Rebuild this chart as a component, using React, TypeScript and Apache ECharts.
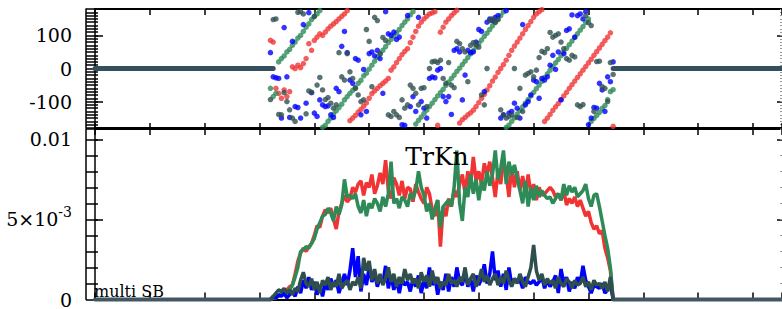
import React, { useEffect, useRef } from 'react';
import * as echarts from 'echarts';

// channel index of the first sample in the arrays below
const FIRST_CHANNEL = 64;
const X_MAX = 250.6;
// channel spans where every product is exactly zero
const zeroPhaseLeft = [0, 65];
const zeroPhaseRight = [189, X_MAX];
const zeroAmpLeft = [0, 64];
const zeroAmpRight = [189, X_MAX];

const phaseRed = [
  85, 80, -60, -75, -90, -65, -85, -70, 5, 0,
  10, 3, 15, 30, 75, 55, 85, 95, 105, 100,
  110, 120, 128, 135, 142, 150, 158, 165, 175, -158,
  -150, -142, -132, -124, -114, -104, -90, -76, -68, -60,
  -52, -45, -38, -30, -5, 5, 18, 30, 42, 52,
  60, 78, 95, 112, 128, 140, 150, 158, 165, 168,
  172, -172, 110, 125, 140, 150, 160, 168, 176, -165,
  -155, -148, -140, -134, -126, -115, -103, -90, -78, -65,
  -52, -38, -26, -12, 0, 12, 25, 40, 55, 68,
  80, 92, 105, 118, 130, 142, 155, 165, 172, 178,
  -160, -150, -139, -127, -116, -106, -94, -83, -72, -60,
  -49, -38, -27, -16, -5, 6, 17, 28, 40, 51,
  62, 73, 84, 95, 108, -175,
];
const phaseGreen = [
  -60, -85, -75, 20, 30, 38, 50, 58, 70, 80,
  92, 100, 112, 125, 135, 148, 158, 165, 175, -178,
  -172, -160, -150, -138, -128, -118, -108, -95, -85, -75,
  -66, -58, -45, -36, -22, -14, -2, 10, 22, 34,
  44, 55, 66, 78, 88, 98, 108, 118, 130, 140,
  150, 162, 172, -168, -157, -147, -136, -126, -115, -105,
  -94, -83, -73, -63, -51, -41, -30, -20, -9, 1,
  12, 22, 33, 44, 54, 65, 76, 86, 97, 107,
  118, 129, 139, 149, 160, 171, -178, -171, -160, -149,
  -138, -127, -116, -105, -94, -83, -72, -61, -50, -39,
  -27, -16, -5, 6, 17, 27, 39, 50, 61, 72,
  83, 94, 105, 116, 127, 139, 150, -160, -151, -142,
  -133, -121, -112, -94, -70, -64,
];
const phaseBlue = [
  48, -25, -28, -30, -150, 124, -25, -148, 82, -115,
  -118, -150, 133, -105, 169, -73, -135, -145, -95, -110,
  -115, -113, -140, -148, -60, -70, 67, 112, 48, -35,
  -45, 30, 25, -140, -3, -130, 45, 50, 38, 55,
  30, -75, 172, 105, 100, 110, 88, 95, -170, -172,
  160, -115, -85, -130, 155, -100, -120, -150, -30, -25,
  -28, -5, 0, -85, -100, -85, -139, 55, 60, 50,
  -95, -20, 55, 48, 50, 80, 118, 112, -70, 140,
  150, 145, 155, 160, -150, -140, 175, -135, -130, -105,
  -120, -150, 133, -110, -100, -80, -35, -40, -90, -30,
  -35, -25, 10, 40, -3, 50, -95, 45, 115, 120,
  162, 95, 160, 165, 150, 172, -170, -150, -118, -120,
  -45, -65, -130, -25, -40, 20,
];
const phaseDark = [
  -94, 148, 150, -139, -140, -73, -100, -125, -150, -160,
  170, 172, 165, -137, -68, -72, 157, -50, -27, -65,
  -94, -88, -105, -120, -110, 48, -25, -35, 45, -10,
  -30, -60, -80, -100, -95, 118, 82, -55, 155, 145,
  45, 94, 85, -140, -145, -130, -140, -148, -95, -120,
  -110, -50, -60, -75, -110, -60, -58, -115, 0, 20,
  22, 18, 25, -30, -45, 18, -50, -58, 82, 75,
  60, 50, -40, 70, 78, 72, 65, -80, -110, 0,
  145, 150, 140, 148, -125, -140, -150, -145, -140, 0,
  -148, -60, -130, -20, -15, -10, -25, -5, 33, 52,
  48, 60, 109, 95, 100, 105, 80, 60, 30, 25,
  40, 35, -110, -115, -109, 160, 139, 130, -130, 21,
  22, -55, -60, -100, 18, -18,
];

const ampRed = [
  0, 0.0001, 0.0002, 0.0002, 0.0004, 0.0005, 0.0006, 0.0008, 0.0009, 0.0016,
  0.0024, 0.0029, 0.0032, 0.0030, 0.0033, 0.0035, 0.0040, 0.0046, 0.0045, 0.0052,
  0.0056, 0.0054, 0.0057, 0.0050, 0.0044, 0.0055, 0.0060, 0.0065, 0.0061, 0.0063,
  0.0070, 0.0067, 0.0072, 0.0074, 0.0065, 0.0073, 0.0070, 0.0078, 0.0066, 0.0071,
  0.0079, 0.0072, 0.0087, 0.0068, 0.0063, 0.0076, 0.0072, 0.0065, 0.0074, 0.0063,
  0.0070, 0.0069, 0.0061, 0.0072, 0.0067, 0.0063, 0.0060, 0.0070, 0.0066, 0.0056,
  0.0052, 0.0062, 0.0033, 0.0058, 0.0052, 0.0063, 0.0058, 0.0068, 0.0064, 0.0072,
  0.0078, 0.0066, 0.0080, 0.0072, 0.0089, 0.0074, 0.0080, 0.0072, 0.0085, 0.0078,
  0.0086, 0.0076, 0.0064, 0.0080, 0.0072, 0.0087, 0.0078, 0.0064, 0.0083, 0.0070,
  0.0080, 0.0068, 0.0077, 0.0066, 0.0078, 0.0066, 0.0072, 0.0062, 0.0070, 0.0065,
  0.0066, 0.0068, 0.0070, 0.0068, 0.0064, 0.0066, 0.0062, 0.0068, 0.0059, 0.0063,
  0.0060, 0.0064, 0.0058, 0.0062, 0.0057, 0.0052, 0.0055, 0.0048, 0.0044, 0.0046,
  0.0041, 0.0043, 0.0032, 0.0026, 0.0018, 0,
];
const ampGreen = [
  0, 0.0001, 0.0001, 0.0002, 0.0004, 0.0005, 0.0004, 0.0006, 0.0009, 0.0014,
  0.0020, 0.0030, 0.0031, 0.0033, 0.0032, 0.0035, 0.0038, 0.0044, 0.0048, 0.0052,
  0.0053, 0.0057, 0.0054, 0.0049, 0.0058, 0.0053, 0.0059, 0.0075, 0.0064, 0.0065,
  0.0063, 0.0066, 0.0058, 0.0054, 0.0062, 0.0052, 0.0060, 0.0057, 0.0063, 0.0060,
  0.0055, 0.0064, 0.0058, 0.0066, 0.0086, 0.0060, 0.0063, 0.0057, 0.0064, 0.0062,
  0.0058, 0.0066, 0.0063, 0.0068, 0.0080, 0.0070, 0.0065, 0.0055, 0.0060, 0.0050,
  0.0057, 0.0062, 0.0045, 0.0058, 0.0060, 0.0062, 0.0058, 0.0070, 0.0093, 0.0060,
  0.0049, 0.0070, 0.0064, 0.0078, 0.0066, 0.0075, 0.0062, 0.0074, 0.0068, 0.0080,
  0.0071, 0.0078, 0.0093, 0.0075, 0.0082, 0.0093, 0.0072, 0.0086, 0.0078, 0.0084,
  0.0076, 0.0068, 0.0060, 0.0074, 0.0058, 0.0070, 0.0062, 0.0071, 0.0064, 0.0068,
  0.0065, 0.0063, 0.0064, 0.0060, 0.0063, 0.0066, 0.0062, 0.0072, 0.0065, 0.0071,
  0.0067, 0.0070, 0.0064, 0.0066, 0.0068, 0.0072, 0.0063, 0.0058, 0.0065, 0.0066,
  0.0058, 0.0049, 0.0040, 0.0032, 0.0020, 0,
];
const ampBlue = [
  0, 0.0002, 0.0001, 0.0003, 0.0002, 0.0004, 0.0001, 0.0003, 0.0005, 0.0002,
  0.0008, 0.0004, 0.0012, 0.0007, 0.0014, 0.0006, 0.0011, 0.0003, 0.0009, 0.0002,
  0.0010, 0.0006, 0.0013, 0.0008, 0.0012, 0.0004, 0.0010, 0.0016, 0.0009, 0.0018,
  0.0032, 0.0014, 0.0027, 0.0005, 0.0016, 0.0009, 0.0020, 0.0011, 0.0016, 0.0008,
  0.0014, 0.0010, 0.0021, 0.0007, 0.0015, 0.0006, 0.0012, 0.0004, 0.0013, 0.0009,
  0.0011, 0.0005, 0.0013, 0.0008, 0.0015, 0.0004, 0.0012, 0.0007, 0.0020, 0.0009,
  0.0014, 0.0003, 0.0011, 0.0006, 0.0016, 0.0005, 0.0014, 0.0008, 0.0020, 0.0011,
  0.0009, 0.0017, 0.0008, 0.0013, 0.0005, 0.0015, 0.0009, 0.0013, 0.0022, 0.0010,
  0.0016, 0.0030, 0.0012, 0.0018, 0.0008, 0.0016, 0.0006, 0.0020, 0.0009, 0.0013,
  0.0011, 0.0012, 0.0007, 0.0014, 0.0011, 0.0010, 0.0012, 0.0009, 0.0011, 0.0014,
  0.0007, 0.0012, 0.0008, 0.0011, 0.0015, 0.0004, 0.0019, 0.0010, 0.0014, 0.0005,
  0.0011, 0.0007, 0.0014, 0.0010, 0.0021, 0.0012, 0.0008, 0.0004, 0.0009, 0.0008,
  0.0007, 0.0010, 0.0004, 0.0006, 0.0010, 0,
];
const ampDark = [
  0, 0.0002, 0.0004, 0.0006, 0.0005, 0.0007, 0.0004, 0.0006, 0.0003, 0.0007,
  0.0005, 0.0012, 0.0017, 0.0010, 0.0008, 0.0013, 0.0006, 0.0011, 0.0004, 0.0012,
  0.0009, 0.0014, 0.0006, 0.0011, 0.0008, 0.0016, 0.0007, 0.0010, 0.0012, 0.0006,
  0.0011, 0.0009, 0.0014, 0.0007, 0.0026, 0.0018, 0.0024, 0.0012, 0.0019, 0.0010,
  0.0016, 0.0009, 0.0013, 0.0020, 0.0011, 0.0016, 0.0008, 0.0014, 0.0010, 0.0019,
  0.0012, 0.0016, 0.0010, 0.0013, 0.0007, 0.0017, 0.0011, 0.0015, 0.0008, 0.0018,
  0.0010, 0.0014, 0.0007, 0.0011, 0.0009, 0.0016, 0.0010, 0.0012, 0.0008, 0.0014,
  0.0011, 0.0020, 0.0009, 0.0013, 0.0016, 0.0008, 0.0012, 0.0019, 0.0011, 0.0015,
  0.0009, 0.0013, 0.0016, 0.0009, 0.0014, 0.0010, 0.0018, 0.0012, 0.0008, 0.0013,
  0.0010, 0.0016, 0.0011, 0.0008, 0.0014, 0.0020, 0.0034, 0.0018, 0.0012, 0.0016,
  0.0009, 0.0013, 0.0010, 0.0012, 0.0007, 0.0014, 0.0010, 0.0008, 0.0013, 0.0011,
  0.0007, 0.0012, 0.0009, 0.0010, 0.0014, 0.0008, 0.0011, 0.0006, 0.0012, 0.0009,
  0.0010, 0.0007, 0.0011, 0.0005, 0.0014, 0,
];

const titleText = 'TrKn';
const noteText = 'multi SB';

const RED = '#f03434';
const GREEN = '#2e8b57';
const BLUE = '#0000ff';
const DARK = '#2f4f4f';
const FONT = 'DejaVu Serif';

const pair = (arr: number[]) => arr.map((v, k) => [FIRST_CHANNEL + k, v]);

export default function App() {
  const ref = useRef<HTMLDivElement>(null);
  useEffect(() => {
    if (!ref.current) return;
    const chart = echarts.init(ref.current, null, { renderer: 'svg' });
    const black = { color: '#000', width: 1.5 };
    const xBase = (grid: number, position: string, len: number) => ({
      type: 'value', gridIndex: grid, position, min: 0, max: X_MAX, interval: 20,
      axisLine: { show: true, onZero: false, lineStyle: { color: '#000', width: 2 } },
      axisTick: { show: true, inside: true, length: len, lineStyle: black },
      axisLabel: { show: false }, splitLine: { show: false },
    });
    const yCommon = (grid: number, min: number, max: number) => ({
      type: 'value', gridIndex: grid, min, max,
      splitLine: { show: false }, axisLabel: { show: false },
    });
    const yAxesFor = (grid: number, min: number, max: number, minorStep: number, major: any, labelCfg: any) => [
      { ...yCommon(grid, min, max), position: 'left', interval: minorStep,
        axisLine: { show: true, onZero: false, lineStyle: { color: '#000', width: 1.5 } },
        axisTick: { show: true, inside: false, length: 9, lineStyle: black } },
      { ...yCommon(grid, min, max), position: 'left', interval: minorStep,
        axisLine: { show: false }, axisTick: { show: true, inside: true, length: 3, lineStyle: black } },
      { ...yCommon(grid, min, max), position: 'left', ...major,
        axisLine: { show: false }, axisTick: { show: true, inside: true, length: 8, lineStyle: black },
        axisLabel: labelCfg },
      { ...yCommon(grid, min, max), position: 'left', offset: 9, interval: minorStep,
        axisLine: { show: true, onZero: false, lineStyle: { color: '#000', width: 1.5 } },
        axisTick: { show: false } },
      { ...yCommon(grid, min, max), position: 'right', ...major,
        axisLine: { show: false }, axisTick: { show: true, inside: true, length: 5, lineStyle: black } },
      { ...yCommon(grid, min, max), position: 'right', interval: minorStep,
        axisLine: { show: false }, axisTick: { show: true, inside: true, length: 2, lineStyle: { color: '#999', width: 1 } } },
    ];
    const labelBase = {
      show: true, color: '#000', fontFamily: FONT, fontSize: 19, margin: 23,
      showMinLabel: false, showMaxLabel: false,
    };
    const phaseAxes = yAxesFor(0, -180, 180, 10, { splitNumber: 4 }, labelBase);
    const ampAxes = yAxesFor(1, 0, 0.01064, 0.001, { interval: 0.005 }, {
      ...labelBase, showMinLabel: true,
      formatter: (v: number) => {
        if (Math.abs(v) < 1e-9) return '0';
        if (Math.abs(v - 0.005) < 1e-9) return '{m|5×10}{s|-3}';
        if (Math.abs(v - 0.01) < 1e-9) return '0.01';
        return '';
      },
      rich: {
        m: { fontFamily: FONT, fontSize: 19, color: '#000' },
        s: { fontFamily: FONT, fontSize: 14, color: '#000', padding: [0, 0, 14, 0] },
      },
    });
    const scatter = (name: string, data: number[], color: string) => ({
      name, type: 'scatter', xAxisIndex: 0, yAxisIndex: 2, data: pair(data),
      symbolSize: 5.5, itemStyle: { color }, z: 3,
    });
    const ampLine = (name: string, data: number[], color: string, z: number) => ({
      name, type: 'line', xAxisIndex: 3, yAxisIndex: 8, data: pair(data),
      symbol: 'none', lineStyle: { color, width: 3.5 }, z,
    });
    const flat = (span: number[], xi: number, yi: number, color: string, width: number) => ({
      type: 'line', xAxisIndex: xi, yAxisIndex: yi, data: span.map((c) => [c, 0]),
      symbol: 'none', clip: false, lineStyle: { color, width, cap: 'round' }, z: 4, silent: true,
    });
    chart.setOption({
      animation: false,
      backgroundColor: '#fff',
      grid: [
        { left: 95, right: 0, top: 9, height: 119 },
        { left: 95, right: 0, top: 129, height: 175.5 },
      ],
      xAxis: [xBase(0, 'top', 6), xBase(0, 'bottom', 5), xBase(1, 'top', 6), xBase(1, 'bottom', 7)],
      yAxis: [...phaseAxes, ...ampAxes],
      series: [
        scatter('phase red', phaseRed, RED),
        scatter('phase green', phaseGreen, GREEN),
        scatter('phase blue', phaseBlue, BLUE),
        scatter('phase dark', phaseDark, DARK),
        flat(zeroPhaseLeft, 0, 2, '#34505c', 5),
        flat(zeroPhaseRight, 0, 2, '#34505c', 5),
        ampLine('amp red', ampRed, RED, 2),
        ampLine('amp green', ampGreen, GREEN, 3),
        ampLine('amp blue', ampBlue, BLUE, 4),
        ampLine('amp dark', ampDark, DARK, 5),
        flat(zeroAmpLeft, 3, 8, '#425664', 4),
        flat(zeroAmpRight, 3, 8, '#425664', 4),
      ],
      graphic: [
        { type: 'text', x: 437, y: 156, z: 10,
          style: { text: titleText, font: `25px "${FONT}"`, fill: '#000', textAlign: 'center', textVerticalAlign: 'middle', align: 'center', verticalAlign: 'middle' } },
        { type: 'text', x: 94, y: 291, z: 10,
          style: { text: noteText, font: `16px "${FONT}"`, fill: '#000', textAlign: 'left', textVerticalAlign: 'middle', align: 'left', verticalAlign: 'middle' } },
      ],
    });
    return () => chart.dispose();
  }, []);
  return (
    <div ref={ref} style={{ position: 'absolute', left: 0, top: 0, width: 782, height: 309, background: '#fff' }} />
  );
}
